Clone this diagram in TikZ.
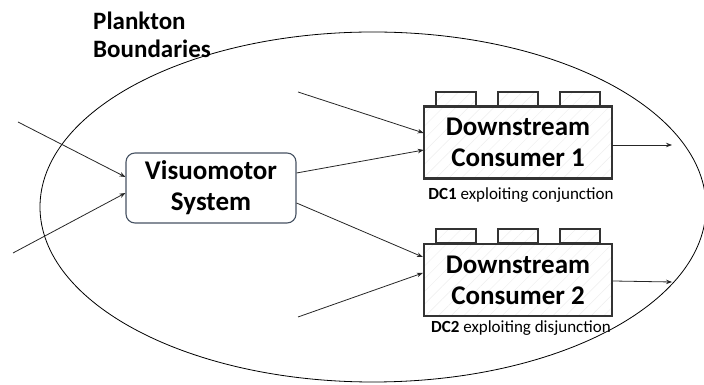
\documentclass[tikz,border=0pt]{standalone}
\usepackage{fontspec}
\setmainfont{Carlito}
\usetikzlibrary{arrows.meta,patterns.meta}
\definecolor{vmedge}{RGB}{70,82,98}

\tikzset{
  brick/.style={draw=black!80,line width=2.4pt,minimum width=188pt,minimum height=72pt,
    inner sep=0pt,align=center,font=\fontsize{27}{31}\selectfont\bfseries,
    pattern={Lines[angle=45,distance=9pt,line width=.6pt]},pattern color=black!6},
  tab/.style={draw=black!80,line width=2pt,
    pattern={Lines[angle=45,distance=9pt,line width=.6pt]},pattern color=black!6},
  vmbox/.style={draw=vmedge,line width=1.1pt,rounded corners=9pt,minimum width=170pt,
    minimum height=70pt,inner sep=0pt,align=center,font=\fontsize{27}{31}\selectfont\bfseries},
  note/.style={inner sep=0pt,font=\fontsize{17}{20}\selectfont},
  lbl/.style={inner sep=0pt,align=left,font=\fontsize{25}{28}\selectfont\bfseries},
  link/.style={->,draw=black!85,line width=.8pt}
}

\begin{document}
\begin{tikzpicture}[x=1pt,y=1pt,>={Stealth[length=6pt,width=4.5pt]}]
\useasboundingbox (0,0) rectangle (704,385);
% boundary
\draw[line width=.8pt] (373,178) ellipse [x radius=333, y radius=175];
\node[lbl,anchor=north west] (pb) at (93,373) {Plankton\\Boundaries};
% systems
\node[vmbox] (vm) at (211,197) {Visuomotor\\System};
\node[brick] (dc1) at (518,242.5) {Downstream\\Consumer 1};
\node[brick] (dc2) at (518,105) {Downstream\\Consumer 2};
\foreach \n in {dc1,dc2}
  \foreach \dx in {-62,0,62}
    \draw[tab] ([xshift=\dx-20]\n.north) rectangle ++(40,14);
\node[note] (n1) at (521,190) {\textbf{DC1} exploiting conjunction};
\node[note] (n2) at (521,57) {\textbf{DC2} exploiting disjunction};
% free ends
\coordinate (in1) at (18,263);
\coordinate (in2) at (13,132);
\coordinate (ex1) at (298,293);
\coordinate (ex2) at (298,68);
\coordinate (out1) at (672,240);
\coordinate (out2) at (672,103);
% arrows
\draw[link] (in1) -- ([yshift=11]vm.west);
\draw[link] (in2) -- ([yshift=-5]vm.west);
\draw[link] ([yshift=15]vm.east) -- ([yshift=-7.5]dc1.west);
\draw[link] ([yshift=-15]vm.east) -- ([yshift=23]dc2.west);
\draw[link] (ex1) -- ([yshift=9.5]dc1.west);
\draw[link] (ex2) -- ([yshift=7]dc2.west);
\draw[link] ([yshift=-2.5]dc1.east) -- (out1);
\draw[link] ([yshift=-1]dc2.east) -- (out2);
\end{tikzpicture}
\end{document}
